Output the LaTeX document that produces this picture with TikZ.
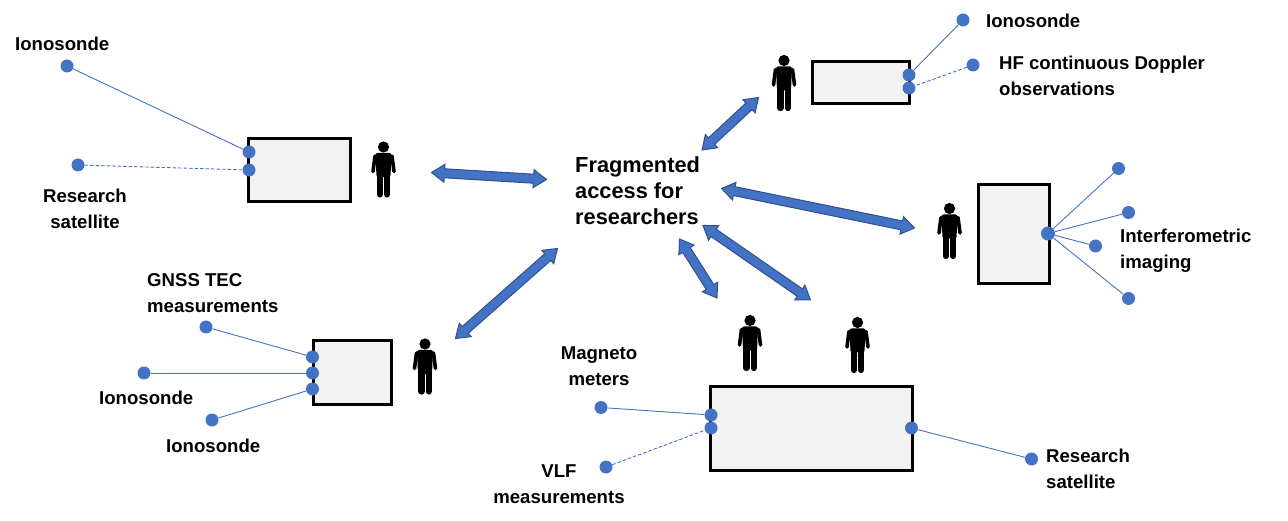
\documentclass[tikz,border=0pt]{standalone}
\usepackage{fontspec}
\setmainfont{Liberation Sans}
\usetikzlibrary{calc}
\definecolor{dotblue}{HTML}{4472C4}
\definecolor{arrfill}{HTML}{4472C4}
\definecolor{arredge}{HTML}{2F528F}
\definecolor{boxfill}{HTML}{F2F2F2}
\tikzset{
  x=1pt,y=-1pt,
  boxn/.style={draw=black,line width=3pt,fill=boxfill,inner sep=0pt,outer sep=0pt,anchor=north west},
  dotn/.style={circle,fill=dotblue,draw=none,minimum size=13pt,inner sep=0pt},
  hubn/.style={circle,fill=dotblue,draw=none,minimum size=14pt,inner sep=0pt},
  link/.style={draw=dotblue,line width=0.9pt},
  dlink/.style={link,dash pattern=on 3.5pt off 2pt},
  lab/.style={font=\fontsize{18.6}{26}\selectfont\bfseries,align=left,anchor=north west,inner sep=0pt},
  labc/.style={lab,align=center,anchor=north},
  bigarrow/.style={fill=arrfill,draw=arredge,line width=1pt,line join=miter},
  person/.pic={
    \fill (0,0) circle[radius=5.6];
    \fill[rounded corners=2pt] (-8,6) -- (8,6) -- (7,30) -- (-7,30) -- cycle;
    \draw[line width=3.6pt,line cap=round,line join=round] (-8.5,9) -- (-10.5,24.5);
    \draw[line width=3.6pt,line cap=round,line join=round] (8.5,9) -- (10.5,24.5);
    \draw[line width=6.2pt,line cap=round] (-3.6,26) -- (-3.6,47.5);
    \draw[line width=6.2pt,line cap=round] (3.6,26) -- (3.6,47.5);
  }
}
\newcommand{\dblarrow}[2]{%
  \path[bigarrow] (#1)
  -- ($(#1)!13pt!(#2)!9pt!90:(#2)$)
  -- ($(#1)!13pt!(#2)!4.5pt!90:(#2)$)
  -- ($(#2)!13pt!(#1)!4.5pt!-90:(#1)$)
  -- ($(#2)!13pt!(#1)!9pt!-90:(#1)$)
  -- (#2)
  -- ($(#2)!13pt!(#1)!9pt!90:(#1)$)
  -- ($(#2)!13pt!(#1)!4.5pt!90:(#1)$)
  -- ($(#1)!13pt!(#2)!4.5pt!-90:(#2)$)
  -- ($(#1)!13pt!(#2)!9pt!-90:(#2)$)
  -- cycle;}
\begin{document}
\begin{tikzpicture}
\useasboundingbox (0,0) rectangle (1288,521);
% boxes
\node[boxn,minimum width=102pt,minimum height=63pt] (b1) at (248,139) {};
\node[boxn,minimum width=97pt,minimum height=42pt] (b2) at (812,62) {};
\node[boxn,minimum width=71pt,minimum height=99pt] (b3) at (978,185) {};
\node[boxn,minimum width=78pt,minimum height=63pt] (b4) at (313,341) {};
\node[boxn,minimum width=202pt,minimum height=84pt] (b5) at (710,386) {};
% persons
\foreach \px/\py in {383.5/147,784/60.5,949.5/208.5,425/344,750/320.5,857.5/322.5}
  \pic at (\px,\py) {person};
% dots
\node[dotn] (a1) at (67,66) {};
\node[dotn] (a2) at (78,165) {};
\node[dotn] (a3) at (249,152) {};
\node[dotn] (a4) at (249,170) {};
\node[dotn] (c1) at (963,20) {};
\node[dotn] (c2) at (973,65) {};
\node[dotn] (c3) at (909,75) {};
\node[dotn] (c4) at (909,88) {};
\node[hubn] (h) at (1048,233.5) {};
\node[dotn] (h1) at (1118.5,168.5) {};
\node[dotn] (h2) at (1128.5,212.5) {};
\node[dotn] (h3) at (1095.5,246) {};
\node[dotn] (h4) at (1128.5,298.5) {};
\node[dotn] (g1) at (206,327) {};
\node[dotn] (g2) at (144,373) {};
\node[dotn] (g3) at (212,420) {};
\node[dotn] (g4) at (312.5,357) {};
\node[dotn] (g5) at (312.5,373) {};
\node[dotn] (g6) at (312.5,389) {};
\node[dotn] (m1) at (601,407.5) {};
\node[dotn] (m2) at (606,467) {};
\node[dotn] (m3) at (711,415) {};
\node[dotn] (m4) at (711,428) {};
\node[dotn] (m5) at (911.5,428) {};
\node[dotn] (m6) at (1031.5,459) {};
% links
\draw[link] (a1) -- (a3);
\draw[dlink] (a2) -- (a4);
\draw[link] (c1) -- (c3);
\draw[dlink] (c2) -- (c4);
\foreach \t in {h1,h2,h3,h4} \draw[link] (h) -- (\t);
\draw[link] (g1) -- (g4);
\draw[link] (g2) -- (g5);
\draw[link] (g3) -- (g6);
\draw[link] (m1) -- (m3);
\draw[dlink] (m2) -- (m4);
\draw[link] (m5) -- (m6);
% arrows
\coordinate (p1) at (431.5,172.5); \coordinate (q1) at (546.5,179.5);
\coordinate (p2) at (702,150); \coordinate (q2) at (758.5,97.5);
\coordinate (p3) at (721.5,188.5); \coordinate (q3) at (914.5,228);
\coordinate (p4) at (703,225.5); \coordinate (q4) at (810.5,300);
\coordinate (p5) at (679.5,239); \coordinate (q5) at (717,298);
\coordinate (p6) at (557.5,248.5); \coordinate (q6) at (455.5,338.5);
\dblarrow{p1}{q1}
\dblarrow{p2}{q2}
\dblarrow{p3}{q3}
\dblarrow{p4}{q4}
\dblarrow{p5}{q5}
\dblarrow{p6}{q6}
% labels
\node[lab] (t1) at (15,37) {Ionosonde};
\node[labc] (t2) at (85,189) {Research\\satellite};
\node[lab] (t3) at (147,273) {GNSS TEC\\measurements};
\node[lab] (t4) at (99,391) {Ionosonde};
\node[lab] (t5) at (166,439) {Ionosonde};
\node[labc] (t6) at (599,347) {Magneto\\meters};
\node[labc] (t7) at (559,465) {VLF\\measurements};
\node[lab] (t8) at (1046,449) {Research\\satellite};
\node[lab] (t9) at (1120,229) {Interferometric\\imaging};
\node[lab] (t10) at (986,14) {Ionosonde};
\node[lab] (t11) at (999,56) {HF continuous Doppler\\observations};
\node[lab,font=\fontsize{21.8}{26}\selectfont\bfseries] (t12) at (575,157) {Fragmented\\access for\\researchers};
\end{tikzpicture}
\end{document}
